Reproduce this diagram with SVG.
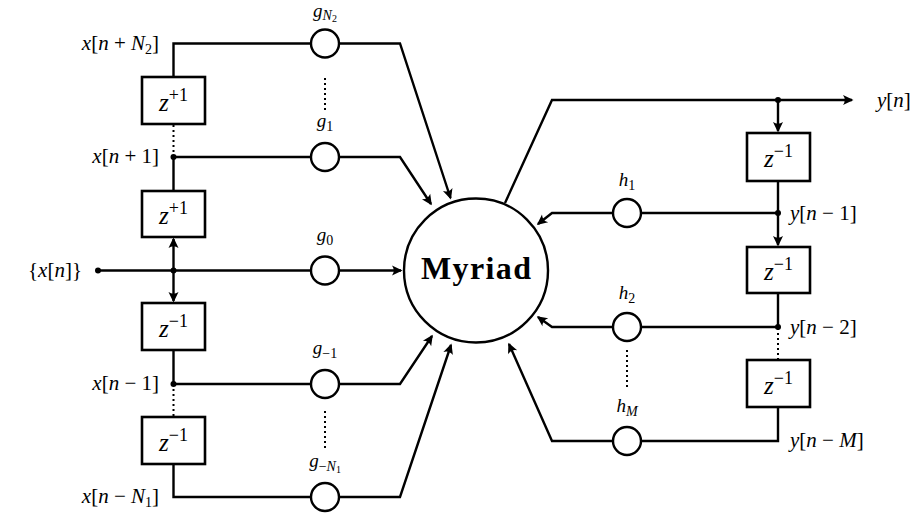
<svg xmlns="http://www.w3.org/2000/svg" width="922" height="516" viewBox="0 0 922 516">
<style>
.ln{fill:none;stroke:#000;stroke-width:2.4;stroke-linejoin:miter}
.ar{marker-end:url(#arr)}
.dt{fill:none;stroke:#000;stroke-width:2;stroke-dasharray:2 3}
.bx{fill:#fff;stroke:#000;stroke-width:2.6}
.cr{fill:#fff;stroke:#000;stroke-width:2.4}
.t{font-family:"Liberation Serif","DejaVu Serif",serif;font-style:italic;font-size:21px;fill:#000}
.g{font-size:19px}
.r{font-style:normal}
.z{font-family:"Liberation Serif","DejaVu Serif",serif;font-style:italic;font-size:25px;fill:#000}
.sp{font-style:normal;font-size:18px}
.s{font-size:14px}
.m{font-family:"Liberation Serif","DejaVu Serif",serif;font-weight:bold;font-size:32px;fill:#000}
</style>
<defs>
<marker id="arr" markerUnits="userSpaceOnUse" viewBox="-12 -6 14 12" refX="0" refY="0" markerWidth="14" markerHeight="12" orient="auto">
<path d="M1.5,0 L-9,-5 Q-5.5,0 -9,5 Z" fill="#000"/>
</marker>
</defs>
<g id="connectors">
<path class="ln" d="M173.5,77 V43.5 H311"/>
<path class="ln ar" d="M339,43.5 H400 L450.5,198"/>
<path class="ln" d="M173.5,191 V157 H311"/>
<path class="ln ar" d="M339,157 H400 L431,204"/>
<path class="ln" d="M98,270.5 H311"/>
<path class="ln ar" d="M339,270.5 H401"/>
<path class="ln ar" d="M173.5,270.5 V239"/>
<path class="ln ar" d="M173.5,270.5 V301"/>
<path class="ln" d="M173.5,350 V384 H311"/>
<path class="ln ar" d="M339,384 H400 L432,336"/>
<path class="ln" d="M173.5,464 V497 H311"/>
<path class="ln ar" d="M339,497 H400 L451,345"/>
<path class="dt" d="M173.5,125 V157"/>
<path class="dt" d="M173.5,384 V416"/>
<path class="dt" d="M325,78 V110"/>
<path class="dt" d="M325,411 V450"/>
<path class="ln ar" d="M505,203 L552,100 H852"/>
<path class="ln ar" d="M778,100 V131"/>
<path class="ln" d="M778,181 V213"/>
<path class="ln ar" d="M778,213 V245"/>
<path class="ln" d="M778,213 H641"/>
<path class="ln ar" d="M613,213 H552 L538,224"/>
<path class="ln" d="M778,293 V327 H641"/>
<path class="ln ar" d="M613,327 H552 L538,317"/>
<path class="dt" d="M778,328 V359"/>
<path class="ln" d="M778,407 V441 H641"/>
<path class="ln ar" d="M613,441 H552 L509,344"/>
<path class="dt" d="M627,350 V390"/>
<circle cx="98" cy="270.5" r="3"/>
<circle cx="173.5" cy="270.5" r="3"/>
<circle cx="173.5" cy="157" r="3"/>
<circle cx="173.5" cy="384" r="3"/>
<circle cx="778" cy="100" r="3"/>
<circle cx="778" cy="213" r="3"/>
<circle cx="778" cy="327" r="3"/>
</g>
<g id="myriad">
<circle class="cr" cx="476" cy="270.5" r="72"/>
<text class="m" x="476" y="279" text-anchor="middle" textLength="110">Myriad</text>
</g>
<g id="zp1a"><rect class="bx" x="142" y="77" width="63" height="47"/><text class="z" x="173.5" y="111" text-anchor="middle">z<tspan class="sp" dy="-10">+1</tspan></text></g>
<g id="zp1b"><rect class="bx" x="142" y="191" width="63" height="46"/><text class="z" x="173.5" y="224" text-anchor="middle">z<tspan class="sp" dy="-10">+1</tspan></text></g>
<g id="zm1a"><rect class="bx" x="142" y="303" width="63" height="47"/><text class="z" x="173.5" y="337" text-anchor="middle">z<tspan class="sp" dy="-10">−1</tspan></text></g>
<g id="zm1b"><rect class="bx" x="142" y="417" width="63" height="47"/><text class="z" x="173.5" y="451" text-anchor="middle">z<tspan class="sp" dy="-10">−1</tspan></text></g>
<g id="zr1"><rect class="bx" x="747" y="133" width="63" height="48"/><text class="z" x="778.5" y="167" text-anchor="middle">z<tspan class="sp" dy="-10">−1</tspan></text></g>
<g id="zr2"><rect class="bx" x="747" y="247" width="63" height="46"/><text class="z" x="778.5" y="280" text-anchor="middle">z<tspan class="sp" dy="-10">−1</tspan></text></g>
<g id="zr3"><rect class="bx" x="747" y="360" width="63" height="47"/><text class="z" x="778.5" y="394" text-anchor="middle">z<tspan class="sp" dy="-10">−1</tspan></text></g>
<g id="gN2"><circle class="cr" cx="325" cy="43.5" r="14"/><text class="t g" x="325" y="17" text-anchor="middle">g<tspan class="s" dy="3">N</tspan><tspan font-size="10" class="r" dy="2">2</tspan></text></g>
<g id="g1"><circle class="cr" cx="325" cy="157" r="14"/><text class="t g" x="325" y="127" text-anchor="middle">g<tspan class="s r" dy="4">1</tspan></text></g>
<g id="g0"><circle class="cr" cx="325" cy="270.5" r="14"/><text class="t g" x="325" y="241" text-anchor="middle">g<tspan class="s r" dy="4">0</tspan></text></g>
<g id="gm1"><circle class="cr" cx="325" cy="384" r="14"/><text class="t g" x="325" y="354" text-anchor="middle">g<tspan class="s r" dy="4">−1</tspan></text></g>
<g id="gmN1"><circle class="cr" cx="325" cy="497" r="14"/><text class="t g" x="325" y="467" text-anchor="middle">g<tspan class="s r" dy="4">−</tspan><tspan class="s">N</tspan><tspan font-size="10" class="r" dy="2">1</tspan></text></g>
<g id="h1"><circle class="cr" cx="627" cy="213" r="14"/><text class="t g" x="627" y="186" text-anchor="middle">h<tspan class="s r" dy="4">1</tspan></text></g>
<g id="h2"><circle class="cr" cx="627" cy="327" r="14"/><text class="t g" x="627" y="299" text-anchor="middle">h<tspan class="s r" dy="4">2</tspan></text></g>
<g id="hM"><circle class="cr" cx="627" cy="441" r="14"/><text class="t g" x="627" y="412" text-anchor="middle">h<tspan class="s" dy="4">M</tspan></text></g>
<g id="labels">
<text class="t" x="159" y="50" text-anchor="end">x<tspan class="r">[</tspan>n <tspan class="r">+</tspan> N<tspan class="s r" dy="4">2</tspan><tspan class="r" dy="-4">]</tspan></text>
<text class="t" x="159" y="163" text-anchor="end">x<tspan class="r">[</tspan>n <tspan class="r">+ 1]</tspan></text>
<text class="t" x="82" y="277" text-anchor="end"><tspan class="r">{</tspan>x<tspan class="r">[</tspan>n<tspan class="r">]}</tspan></text>
<text class="t" x="159" y="390" text-anchor="end">x<tspan class="r">[</tspan>n <tspan class="r">− 1]</tspan></text>
<text class="t" x="159" y="503" text-anchor="end">x<tspan class="r">[</tspan>n <tspan class="r">−</tspan> N<tspan class="s r" dy="4">1</tspan><tspan class="r" dy="-4">]</tspan></text>
<text class="t" x="877" y="107">y<tspan class="r">[</tspan>n<tspan class="r">]</tspan></text>
<text class="t" x="790" y="220">y<tspan class="r">[</tspan>n <tspan class="r">− 1]</tspan></text>
<text class="t" x="790" y="334">y<tspan class="r">[</tspan>n <tspan class="r">− 2]</tspan></text>
<text class="t" x="790" y="447">y<tspan class="r">[</tspan>n <tspan class="r">−</tspan> M<tspan class="r">]</tspan></text>
</g>
</svg>
